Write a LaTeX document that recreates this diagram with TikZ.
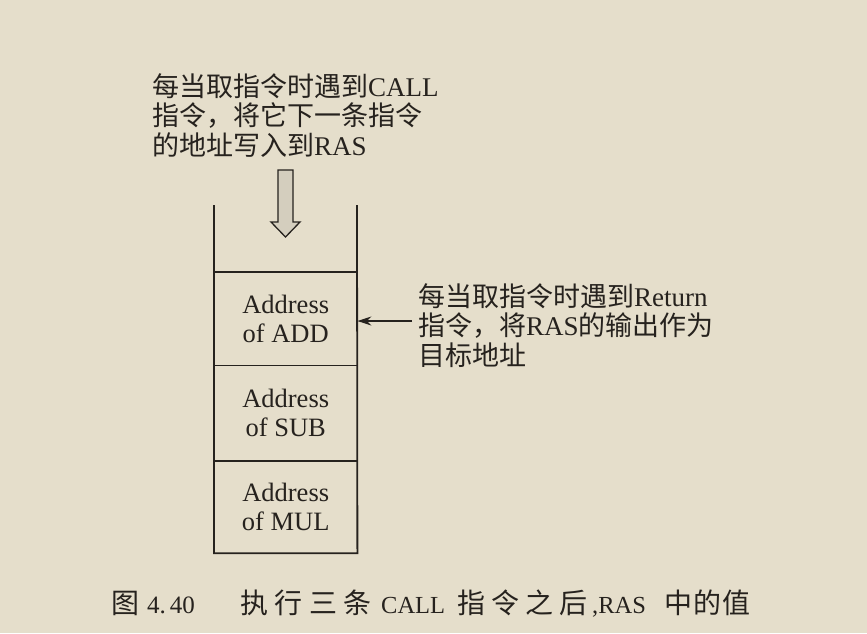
\documentclass[tikz,border=0pt]{standalone}
\usepackage{fontspec}
\setmainfont{Liberation Serif}
\newfontfamily\cjk{Noto Sans CJK SC}
\usetikzlibrary{arrows.meta}
\definecolor{paper}{RGB}{229,222,203}
\definecolor{ink}{RGB}{38,34,30}
\definecolor{hollow}{RGB}{212,206,190}
\newcommand\capc[2]{\makebox[#1pt][l]{\cjk #2}}
\tikzset{
  cell/.style={minimum width=143pt, inner sep=0pt, align=center, text=ink, font=\fontsize{26.5}{29}\selectfont},
  note/.style={anchor=north west, inner sep=0pt, align=left, text=ink, font=\fontsize{27}{29.5}\selectfont},
  rim/.style={draw=ink, line width=1.8pt},
}
\begin{document}
\begin{tikzpicture}[x=1pt,y=-1pt]
\fill[paper] (0,0) rectangle (867,633);
\useasboundingbox (0,0) rectangle (867,633);
% stack cells
\node[cell, minimum height=93pt, anchor=north west] (c1) at (214,272) {Address\\of ADD};
\node[cell, minimum height=95pt, anchor=north west] (c2) at (c1.south west) {Address\\of SUB};
\node[cell, minimum height=92pt, anchor=north west] (c3) at (c2.south west) {Address\\of MUL};
\coordinate (tl) at (214,205);
\coordinate (tr) at (357,205);
\draw[rim, line join=miter] (tl) -- (c3.south west) -- (c3.south east) -- (tr);
\draw[rim] (c1.north west) -- (c1.north east);
\draw[rim] (c2.north west) -- (c2.north east);
\draw[rim] (c3.north west) -- (c3.north east);
% hollow arrow
\draw[ink, line width=1.3pt, fill=hollow, line join=miter] (278,170) -- (293,170) -- (293,222) -- (300,222) -- (285.5,237) -- (271,222) -- (278,222) -- cycle;
% top note
\node[note] (top) at (152,73) {{\cjk 每当取指令时遇到}CALL\\{\cjk 指令，将它下一条指令}\\{\cjk 的地址写入到}RAS};
% right note
\node[note] (right) at (418,283) {{\cjk 每当取指令时遇到}Return\\{\cjk 指令，将}RAS{\cjk 的输出作为}\\{\cjk 目标地址}};
\coordinate (ra) at (412,321);
\draw[ink, line width=1.8pt, -{Stealth[length=14pt,width=9pt]}] (ra) -- (c1.east |- ra);
% caption
\node[anchor=west, inner sep=0pt, text=ink, font=\fontsize{28}{30}\selectfont] (cap) at (111,604) {\capc{36}{图}\makebox[93pt][l]{\fontsize{25}{28}\selectfont 4.\hspace{4pt}40}\capc{34.5}{执}\capc{34.5}{行}\capc{34.5}{三}\capc{37.5}{条}\makebox[76pt][l]{\fontsize{24.5}{28}\selectfont CALL}\capc{34}{指}\capc{34}{令}\capc{34}{之}\capc{33}{后}\makebox[72pt][l]{\fontsize{24.5}{28}\selectfont ,RAS}\capc{29}{中}\capc{29}{的}\capc{29}{值}};
\end{tikzpicture}
\end{document}
